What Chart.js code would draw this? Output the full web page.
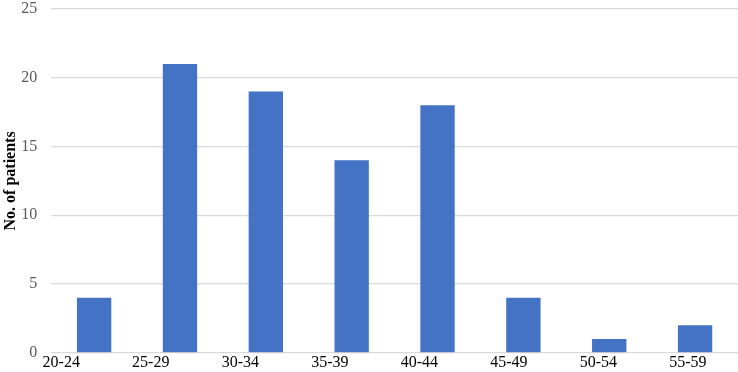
<!DOCTYPE html>
<html>
<head>
<meta charset="utf-8">
<script src="https://cdn.jsdelivr.net/npm/chart.js@4"></script>
<style>
  html, body { margin: 0; padding: 0; background: #fff; }
  #wrap { width: 738px; height: 372px; }
</style>
</head>
<body>
<div id="wrap"><canvas id="chart"></canvas></div>
<script>
const ageGroups = ['20-24', '25-29', '30-34', '35-39', '40-44', '45-49', '50-54', '55-59'];
const patientCounts = [4, 21, 19, 14, 18, 4, 1, 2];
const yTicks = [0, 5, 10, 15, 20, 25];

const barColor = '#4472C4';
const gridColor = '#d9d9d9';
const serif = '"Liberation Serif", "Times New Roman", serif';

new Chart(document.getElementById('chart'), {
    type: 'bar',
    data: {
        labels: ageGroups,
        datasets: [{
            label: 'No. of patients',
            data: patientCounts,
            backgroundColor: barColor,
            barPercentage: 0.4,
            categoryPercentage: 1
        }]
    },
    options: {
        responsive: true,
        maintainAspectRatio: false,
        animation: false,
        layout: { padding: 0 },
        plugins: {
            legend: { display: false },
            tooltip: { enabled: false }
        },
        scales: {
            x: { display: false },
            // label row below the bars, spaced as in the original figure
            x2: {
                type: 'linear',
                position: 'bottom',
                offset: false,
                bounds: 'data',
                min: -0.112,
                max: 7.559,
                grid: { display: false, drawTicks: false },
                border: { display: false },
                afterBuildTicks: axis => {
                    axis.ticks = ageGroups.map((_, i) => ({ value: i }));
                },
                ticks: {
                    autoSkip: false,
                    maxRotation: 0,
                    padding: 0,
                    color: '#000',
                    font: { family: serif, size: 16 },
                    callback: v => ageGroups[v]
                }
            },
            y: {
                min: 0,
                max: 25,
                afterBuildTicks: axis => {
                    axis.ticks = yTicks.map(v => ({ value: v }));
                },
                grid: { color: gridColor, lineWidth: 1.3, tickLength: 13, tickColor: 'rgba(0,0,0,0)' },
                border: { display: false },
                ticks: {
                    padding: 1,
                    color: '#595959',
                    font: { family: serif, size: 16, lineHeight: 1 }
                },
                title: {
                    display: true,
                    text: 'No. of patients',
                    color: '#000',
                    padding: { top: 1, bottom: 0 },
                    font: { family: serif, size: 16, weight: 'bold' }
                }
            }
        }
    }
});
</script>
</body>
</html>
